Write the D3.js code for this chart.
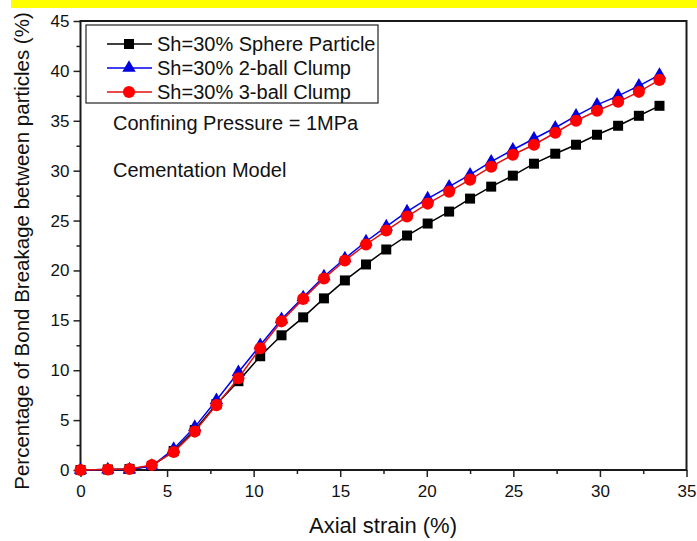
<!DOCTYPE html>
<html>
<head>
<meta charset="utf-8">
<script src="https://cdn.jsdelivr.net/npm/d3@7"></script>
<style>
  html, body { margin: 0; padding: 0; background: #fff; }
  svg { display: block; font-family: "Liberation Sans", Arial, sans-serif; }
</style>
</head>
<body>
<svg id="chart" width="697" height="541"></svg>
<script>
// Axial strain (%) at each recorded state
const strain = [0, 1.58, 2.83, 4.12, 5.38, 6.6, 7.85, 9.12, 10.38, 11.61, 12.86, 14.06,
  15.27, 16.49, 17.66, 18.86, 20.05, 21.29, 22.5, 23.72, 24.97, 26.19, 27.42, 28.62,
  29.83, 31.05, 32.25, 33.44];

// Percentage of bond breakage between particles (%)
const sphere = [0, 0.05, 0.1, 0.4, 1.9, 4.0, 6.6, 8.9, 11.4, 13.5, 15.3, 17.2, 19.0,
  20.6, 22.1, 23.5, 24.7, 25.9, 27.2, 28.4, 29.5, 30.7, 31.7, 32.6, 33.6, 34.5, 35.5, 36.5];
const clump2 = [0, 0.05, 0.05, 0.4, 2.1, 4.3, 7.0, 9.8, 12.5, 15.1, 17.3, 19.4, 21.2,
  22.9, 24.4, 25.9, 27.2, 28.4, 29.6, 30.9, 32.1, 33.2, 34.3, 35.5, 36.6, 37.5, 38.5, 39.6];
const clump3 = [0, 0.05, 0.1, 0.5, 1.8, 3.85, 6.5, 9.2, 12.2, 14.9, 17.15, 19.2, 21.0,
  22.6, 24.0, 25.4, 26.7, 27.9, 29.1, 30.4, 31.6, 32.6, 33.8, 35.0, 36.0, 36.9, 37.9, 39.1];

const seriesNames = ["Sh=30% Sphere Particle", "Sh=30% 2-ball Clump", "Sh=30% 3-ball Clump"];
const xTicks = [0, 5, 10, 15, 20, 25, 30, 35];
const yTicks = [0, 5, 10, 15, 20, 25, 30, 35, 40, 45];
const notes = ["Confining Pressure = 1MPa", "Cementation Model"];

const svg = d3.select("#chart");
const W = 697, H = 541;
const plot = { left: 80.5, right: 686.5, top: 21, bottom: 470 };

// top highlight band
svg.append("rect").attr("x", 11).attr("y", 0).attr("width", W - 11).attr("height", 8)
  .attr("fill", "#ffff00");

const x = d3.scaleLinear().domain([0, 35]).range([plot.left, plot.right]);
const y = d3.scaleLinear().domain([0, 45]).range([plot.bottom, plot.top]);

// minor ticks (no labels)
const minorX = d3.range(2.5, 35, 5);
const minorY = d3.range(2.5, 45, 5);
svg.append("g").attr("transform", `translate(0,${plot.bottom})`)
  .call(d3.axisBottom(x).tickValues(minorX).tickSize(4).tickFormat(""))
  .call(g => g.select(".domain").remove())
  .call(g => g.selectAll("line").attr("stroke", "#222").attr("stroke-width", 1.5));
svg.append("g").attr("transform", `translate(${plot.left},0)`)
  .call(d3.axisLeft(y).tickValues(minorY).tickSize(4).tickFormat(""))
  .call(g => g.select(".domain").remove())
  .call(g => g.selectAll("line").attr("stroke", "#222").attr("stroke-width", 1.5));

// major ticks with labels
svg.append("g").attr("transform", `translate(0,${plot.bottom})`)
  .call(d3.axisBottom(x).tickValues(xTicks).tickSize(7).tickPadding(8).tickFormat(d3.format("d")))
  .call(g => g.select(".domain").remove())
  .call(g => g.selectAll("line").attr("stroke", "#222").attr("stroke-width", 1.5))
  .call(g => g.selectAll("text").attr("font-size", 17).attr("fill", "#111")
    .attr("font-family", "Liberation Sans, Arial, sans-serif"));
svg.append("g").attr("transform", `translate(${plot.left},0)`)
  .call(d3.axisLeft(y).tickValues(yTicks).tickSize(7).tickPadding(4).tickFormat(d3.format("d")))
  .call(g => g.select(".domain").remove())
  .call(g => g.selectAll("line").attr("stroke", "#222").attr("stroke-width", 1.5))
  .call(g => g.selectAll("text").attr("font-size", 17).attr("fill", "#111")
    .attr("font-family", "Liberation Sans, Arial, sans-serif"));

// plot frame
svg.append("rect")
  .attr("x", plot.left).attr("y", plot.top)
  .attr("width", plot.right - plot.left).attr("height", plot.bottom - plot.top)
  .attr("fill", "none").attr("stroke", "#1a1a1a").attr("stroke-width", 2);

// axis titles
svg.append("text")
  .attr("x", 383).attr("y", 533)
  .attr("text-anchor", "middle").attr("font-size", 22).attr("fill", "#111")
  .text("Axial strain (%)");
svg.append("text")
  .attr("transform", `translate(29,251) rotate(-90)`)
  .attr("text-anchor", "middle").attr("font-size", 20.5).attr("fill", "#111")
  .text("Percentage of Bond Breakage between particles (%)");

// marker symbols
const markers = [
  { data: sphere, line: "#000000", fill: "#000000", type: d3.symbolSquare, size: 100 },
  { data: clump2, line: "#0000ee", fill: "#0000dd", type: d3.symbolTriangle, size: 78 },
  { data: clump3, line: "#e01010", fill: "#ff0000", type: d3.symbolCircle, size: 115 }
];

const lineGen = d3.line().x(d => x(d[0])).y(d => y(d[1]));

markers.forEach(s => {
  const pts = strain.map((v, i) => [v, s.data[i]]);
  svg.append("path").datum(pts)
    .attr("d", lineGen).attr("fill", "none")
    .attr("stroke", s.line).attr("stroke-width", 1.5);
  svg.append("g").selectAll("path").data(pts).join("path")
    .attr("transform", d => `translate(${x(d[0])},${y(d[1])})`)
    .attr("d", d3.symbol().type(s.type).size(s.size))
    .attr("fill", s.fill);
});

// legend
const lg = svg.append("g");
lg.append("rect").attr("x", 86).attr("y", 25).attr("width", 292).attr("height", 78)
  .attr("fill", "#fff").attr("stroke", "#222").attr("stroke-width", 1.2);
markers.forEach((s, i) => {
  const cy = 44 + i * 24;
  lg.append("line").attr("x1", 107).attr("x2", 152).attr("y1", cy).attr("y2", cy)
    .attr("stroke", s.line).attr("stroke-width", 1.5);
  lg.append("path").attr("transform", `translate(129,${cy})`)
    .attr("d", d3.symbol().type(s.type).size(s.size)).attr("fill", s.fill);
  lg.append("text").attr("x", 157).attr("y", cy + 7)
    .attr("font-size", 20).attr("fill", "#111").text(seriesNames[i]);
});

// annotations
notes.forEach((t, i) => {
  svg.append("text").attr("x", 113).attr("y", [130, 177][i])
    .attr("font-size", 20).attr("fill", "#111").text(t);
});
</script>
</body>
</html>
